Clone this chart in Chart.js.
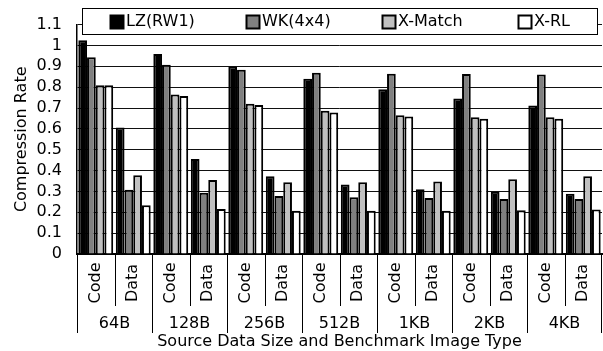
<!DOCTYPE html>
<html>
<head>
<meta charset="utf-8">
<script src="https://cdn.jsdelivr.net/npm/chart.js@4/dist/chart.umd.min.js"></script>
<style>
  html, body { margin: 0; padding: 0; background: #fff; }
  #wrap { width: 603px; height: 351px; }
</style>
</head>
<body>
<div id="wrap"><canvas id="chart"></canvas></div>
<script>
'use strict';
// data
var sizes = ["64B", "128B", "256B", "512B", "1KB", "2KB", "4KB"];
var types = ["Code", "Data"];
var seriesNames = ["LZ(RW1)", "WK(4x4)", "X-Match", "X-RL"];
var lzValues     = [1.025, 0.607, 0.959, 0.455, 0.899, 0.373, 0.840, 0.333, 0.790, 0.310, 0.746, 0.299, 0.712, 0.289];
var wkValues     = [0.943, 0.308, 0.908, 0.294, 0.883, 0.278, 0.869, 0.272, 0.864, 0.269, 0.863, 0.264, 0.861, 0.264];
var xmatchValues = [0.809, 0.378, 0.765, 0.355, 0.720, 0.344, 0.687, 0.344, 0.665, 0.348, 0.656, 0.359, 0.656, 0.373];
var xrlValues    = [0.809, 0.234, 0.758, 0.216, 0.714, 0.207, 0.679, 0.207, 0.659, 0.207, 0.649, 0.210, 0.648, 0.213];
var yTicks = [0, 0.1, 0.2, 0.3, 0.4, 0.5, 0.6, 0.7, 0.8, 0.9, 1, 1.1];

var FONT = "'DejaVu Sans', sans-serif";
var colors = ["#000000", "#808080", "#c0c0c0", "#ffffff"];

var labels = [];
sizes.forEach(function (s) {
    types.forEach(function (t) { labels.push(t); });
});

var allValues = [lzValues, wkValues, xmatchValues, xrlValues];
var datasets = seriesNames.map(function (name, i) {
    return {
        label: name,
        data: allValues[i],
        backgroundColor: colors[i],
        borderColor: "#000",
        borderWidth: 2,
        barPercentage: 1.0,
        categoryPercentage: 0.93
    };
});

// draws the two-level x axis and the boxed legend
var extras = {
    id: "extras",
    afterDraw: function (chart) {
        var ctx = chart.ctx;
        var x = chart.scales.x;
        var area = chart.chartArea;
        var n = labels.length;
        var step = (area.right - area.left) / n;
        ctx.save();
        ctx.strokeStyle = "#000";
        ctx.lineWidth = 1;
        ctx.fillStyle = "#000";

        // separators
        for (var i = 0; i <= n; i++) {
            var px = Math.round(x.getPixelForValue(i) - step / 2) + 0.5;
            if (i === n) px = Math.round(x.getPixelForValue(n - 1) + step / 2) - 0.5;
            var bottom = (i % 2 === 0) ? 333 : 306;
            ctx.beginPath();
            ctx.moveTo(px, area.bottom);
            ctx.lineTo(px, bottom);
            ctx.stroke();
        }

        // rotated type labels
        ctx.font = "16px " + FONT;
        ctx.textAlign = "center";
        ctx.textBaseline = "middle";
        for (var j = 0; j < n; j++) {
            ctx.save();
            ctx.translate(x.getPixelForValue(j), 283);
            ctx.rotate(-Math.PI / 2);
            ctx.fillText(labels[j], 0, 0);
            ctx.restore();
        }

        // size labels
        for (var k = 0; k < sizes.length; k++) {
            var cx = (x.getPixelForValue(2 * k) + x.getPixelForValue(2 * k + 1)) / 2;
            ctx.fillText(sizes[k], cx, 324);
        }

        // axis title
        ctx.fillText("Source Data Size and Benchmark Image Type", (area.left + area.right) / 2, 342);

        // legend
        ctx.fillStyle = "#fff";
        ctx.fillRect(82.5, 8.5, 515, 26);
        ctx.lineWidth = 1;
        ctx.strokeRect(82.5, 8.5, 515, 26);
        ctx.textAlign = "left";
        for (var m = 0; m < seriesNames.length; m++) {
            var lx = 110 + m * 136;
            ctx.fillStyle = colors[m];
            ctx.fillRect(lx + 0.5, 15.5, 13, 13);
            ctx.lineWidth = 2;
            ctx.strokeRect(lx + 0.5, 15.5, 13, 13);
            ctx.fillStyle = "#000";
            ctx.fillText(seriesNames[m], lx + 16, 22);
        }
        ctx.restore();
    }
};

new Chart("chart", {
    type: "bar",
    data: { labels: labels, datasets: datasets },
    options: {
        responsive: true,
        maintainAspectRatio: false,
        animation: false,
        layout: { padding: { top: 22, right: 1, left: 0, bottom: 0 } },
        plugins: {
            legend: { display: false },
            tooltip: { enabled: false }
        },
        scales: {
            x: {
                grid: { display: false },
                border: { display: true, color: "#000", width: 2 },
                ticks: { display: false },
                afterFit: function (s) { s.height = 97; }
            },
            y: {
                min: 0,
                max: 1.1,
                afterBuildTicks: function (s) {
                    s.ticks = yTicks.map(function (v) { return { value: v }; });
                },
                ticks: {
                    autoSkip: false,
                    color: "#000",
                    font: { size: 16, family: FONT },
                    padding: 15,
                    callback: function (v) { return String(Number(v.toFixed(1))); }
                },
                grid: { color: "#111", drawTicks: false, lineWidth: 1 },
                border: { color: "#000", width: 1.5 },
                title: {
                    display: true,
                    text: "Compression Rate",
                    color: "#000",
                    font: { size: 16, family: FONT },
                    padding: { top: 12, bottom: 0 }
                },
                afterFit: function (s) { s.width = 77; }
            }
        }
    },
    plugins: [extras]
});
</script>
</body>
</html>
